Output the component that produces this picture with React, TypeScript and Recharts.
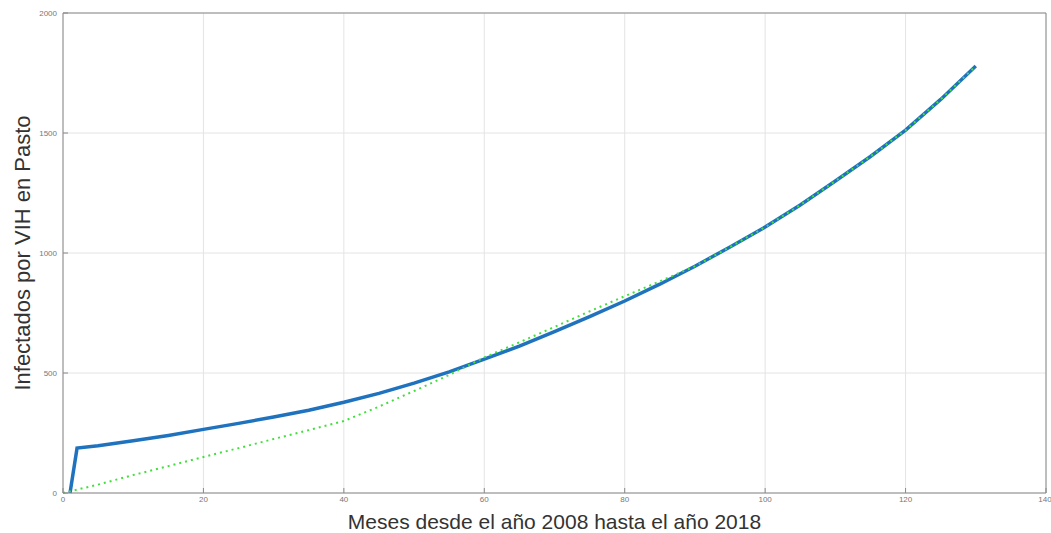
import { CartesianGrid, Label, Line, LineChart, XAxis, YAxis } from "recharts";

// modelo (azul, continuo)
const modelMonths = [1, 2, 5, 10, 15, 20, 25, 30, 35, 40, 45, 50, 55, 60, 65, 70, 75, 80, 85, 90, 95, 100, 105, 110, 115, 120, 125, 130];
const modelValues = [0, 187, 197, 218, 240, 265, 290, 317, 345, 378, 415, 458, 505, 558, 612, 672, 735, 800, 870, 945, 1025, 1108, 1200, 1300, 1402, 1512, 1640, 1779];

// datos (verde, punteado)
const dataMonths = [0, 5, 10, 15, 20, 25, 30, 35, 40, 45, 50, 55, 60, 65, 70, 75, 80, 85, 90, 95, 100, 105, 110, 115, 120, 125, 130];
const dataValues = [0, 35, 75, 112, 150, 187, 225, 262, 300, 360, 425, 492, 565, 628, 692, 757, 820, 882, 945, 1025, 1108, 1200, 1300, 1402, 1512, 1640, 1779];

const xTicks = [0, 20, 40, 60, 80, 100, 120, 140];
const yTicks = [0, 500, 1000, 1500, 2000];

const model = modelMonths.map((m, i) => ({ mes: m, v: modelValues[i] }));
const real = dataMonths.map((m, i) => ({ mes: m, v: dataValues[i] }));

const axisColor = "#8a8a8a";
const font = "Liberation Sans, Arial, sans-serif";
const tickText = { fontSize: 8, fill: "#777", fontFamily: font };

export default function App() {
  return (
    <div style={{ position: "absolute", left: 0, top: 0, background: "#fff" }}>
      <LineChart width={1051} height={533} margin={{ top: 0, right: 0, bottom: 0, left: 0 }}>
        <CartesianGrid stroke="#e4e4e4" xAxisId="b" yAxisId="l" />
        <XAxis
          xAxisId="b"
          dataKey="mes"
          type="number"
          domain={[0, 140]}
          ticks={xTicks}
          height={40}
          stroke={axisColor}
          tickSize={-5}
          tickMargin={8}
          tick={tickText}
          allowDuplicatedCategory={false}
        >
          <Label
            value="Meses desde el año 2008 hasta el año 2018"
            position="insideBottom"
            offset={4}
            style={{ fontFamily: font, fontSize: 21, fill: "#333" }}
          />
        </XAxis>
        <XAxis
          xAxisId="t"
          orientation="top"
          type="number"
          domain={[0, 140]}
          ticks={xTicks}
          height={13}
          stroke={axisColor}
          tickSize={-5}
          tick={false}
        />
        <YAxis
          yAxisId="l"
          type="number"
          domain={[0, 2000]}
          ticks={yTicks}
          width={63}
          stroke={axisColor}
          tickSize={-5}
          tickMargin={11}
          tick={tickText}
        >
          <Label
            value="Infectados por VIH en Pasto"
            angle={-90}
            position="insideLeft"
            offset={22}
            style={{ fontFamily: font, fontSize: 22, fill: "#333", textAnchor: "middle" }}
          />
        </YAxis>
        <YAxis
          yAxisId="r"
          orientation="right"
          type="number"
          domain={[0, 2000]}
          ticks={yTicks}
          width={5}
          stroke={axisColor}
          tickSize={-5}
          tick={false}
        />
        <Line
          xAxisId="b"
          yAxisId="l"
          data={model}
          dataKey="v"
          type="linear"
          stroke="#1f72bd"
          strokeWidth={3.5}
          dot={false}
          isAnimationActive={false}
        />
        <Line
          xAxisId="b"
          yAxisId="l"
          data={real}
          dataKey="v"
          type="linear"
          stroke="#3fe03a"
          strokeWidth={2}
          strokeDasharray="2 4"
          dot={false}
          isAnimationActive={false}
        />
      </LineChart>
    </div>
  );
}
